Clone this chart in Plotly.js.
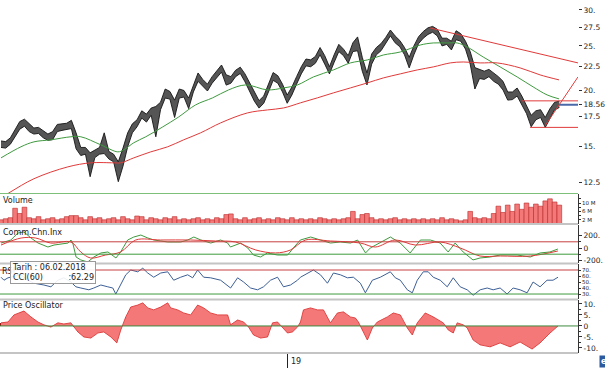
<!DOCTYPE html>
<html>
<head>
<meta charset="utf-8">
<script src="https://cdn.plot.ly/plotly-3.0.1.min.js"></script>
<style>html,body{margin:0;padding:0;background:#fff;}#chart{width:605px;height:368px;}</style>
</head>
<body>
<div id="chart"></div>
<script>
// ---------- DATA ----------
// price bars (high / low), equally spaced sessions
const barStep = 4.7;
const priceHigh = [15.45,15.40,15.70,16.35,17.05,17.25,16.85,16.50,16.55,16.25,
16.00,16.20,16.80,16.85,16.90,17.15,16.10,14.95,14.95,14.55,
14.75,14.95,16.10,14.65,14.45,13.90,14.90,16.10,16.85,17.20,
18.00,17.70,18.25,18.40,18.80,20.10,19.85,19.00,20.10,19.95,
19.20,20.50,21.80,21.10,20.60,21.40,22.00,22.70,21.60,21.40,
22.10,22.45,21.70,20.70,19.70,18.95,19.40,20.55,21.85,21.50,
20.60,19.50,20.30,21.40,22.50,23.40,23.30,23.70,24.80,23.80,
22.50,23.90,25.20,24.60,23.80,25.40,26.17,23.60,21.80,24.00,
24.80,25.30,26.10,27.10,26.30,25.70,24.80,23.60,25.00,26.20,
26.90,27.40,27.60,27.20,26.00,26.00,25.60,27.00,26.60,25.60,
24.30,22.40,22.20,22.00,22.20,21.80,21.40,20.90,19.80,19.80,
20.20,19.40,18.50,17.60,18.00,18.10,17.40,18.20,18.80,18.90];
const priceLow = [14.95,14.90,15.20,15.75,16.40,16.65,16.20,16.00,16.05,15.70,
15.50,15.55,16.20,16.30,16.35,16.45,14.85,14.35,14.45,12.89,
14.20,14.45,14.50,14.10,13.90,12.57,13.60,15.00,16.10,16.60,
17.35,17.00,17.60,15.78,18.10,19.20,19.10,17.40,19.20,19.30,
18.20,19.80,20.90,20.40,19.90,20.70,21.30,21.90,20.50,20.70,
21.40,21.75,20.85,19.90,18.90,18.25,18.70,19.80,21.00,20.70,
19.80,18.70,19.50,20.60,21.70,22.60,22.50,22.90,23.90,22.80,
21.70,23.00,24.30,23.80,22.90,24.30,24.40,22.00,20.52,22.80,
23.90,24.40,25.30,26.30,25.40,24.90,23.90,22.37,23.90,25.30,
26.00,26.50,26.80,26.30,25.00,25.20,24.50,25.80,25.60,24.60,
22.80,20.10,21.20,21.10,21.40,20.90,20.60,20.00,19.00,19.05,
19.40,18.50,17.75,16.60,17.20,17.40,16.55,17.30,18.10,18.30];
const volumeM = [2.0,2.5,3.0,7.5,5.0,8.0,3.0,2.5,3.5,2.0,
2.5,3.0,2.0,2.5,3.5,4.0,4.0,3.0,2.0,3.5,
2.5,3.0,2.0,2.5,3.0,2.0,3.5,2.5,2.0,3.8,
3.5,2.0,3.0,2.5,2.0,3.0,2.5,3.5,2.0,2.5,
2.0,2.5,3.0,2.0,2.5,2.0,3.0,2.5,4.5,4.8,
2.5,2.0,3.0,2.0,2.5,3.0,2.0,2.5,2.0,3.0,
2.5,2.0,3.0,2.0,2.5,2.0,2.5,2.0,3.0,2.5,
2.0,2.5,2.0,2.5,3.0,6.0,2.5,4.5,5.0,3.0,
2.0,2.5,2.0,2.5,3.0,2.0,2.5,2.0,2.5,2.0,
2.5,2.0,2.5,2.0,3.0,2.0,2.5,2.0,1.5,2.0,
6.0,3.0,2.5,3.0,2.5,5.0,8.5,5.5,9.0,6.0,
9.5,7.0,10.0,8.0,9.5,8.5,11.0,12.0,10.5,9.0];

// moving averages
const maGreenT = [0,20,33,50,70,80,100,117,123,133,145,162,178,195,212,228,245,267,283,297,313,333,350,367,383,400,420,433,447,457,467,483,500,517,533,547,559];
const maGreenV = [14.18,15.00,15.38,15.54,15.78,15.78,15.15,14.62,14.77,15.31,15.78,16.59,17.45,18.55,19.22,20.01,20.52,20.01,20.21,20.52,21.37,22.14,22.94,23.29,23.88,24.25,25.12,25.38,25.38,25.38,24.87,23.64,22.48,21.37,20.32,19.51,19.12];
const maRedT = [0,10,33,67,90,113,120,133,150,167,183,200,220,247,267,283,300,317,333,350,367,383,400,417,433,450,463,480,497,520,540,559];
const maRedV = [11.58,11.95,12.76,13.55,13.83,13.83,13.83,14.18,14.62,15.00,15.54,16.10,16.93,17.81,18.08,18.26,18.74,19.22,19.71,20.21,20.73,21.26,21.70,22.14,22.48,22.94,23.05,22.94,22.94,22.37,21.59,21.05];

// drawn trend / level lines
const trendDownT = [430,578], trendDownV = [27.38,22.94];
const trendUpT = [545,578], trendUpV = [16.68,21.37];
const resistT = [522,578], resistV = [18.93,18.93];
const supportT = [530,578], supportV = [16.55,16.55];
const lastT = [559,578], lastV = [18.56,18.56];

// Commodity Channel Index
const cciT = [0,2.1,3.6,4.9,6.4,7.9,10,11.3,14.3,14.9,15.3,16,17,18.5,19.8,21.3,22.8,24.5,25.5,27,28.3,29.8,31.3,32.6,35.5,38.3,39.8,41.1,42.6,44.7,46.8,48.3,48.9,51.1,52.6,53.8,55.3,56.8,58.9,61.1,62.3,63.8,66,68.1,70.2,72.3,74.5,76,77.7,78.7,80.9,83,85.1,87.2,89.4,91.5,93.6,95.3,96.8,98.5,100.6,102.1,104.3,106.4,110,112.8,114.9,117,118.7];
const cciV = [80,129,241,258,161,80,16,48,80,129,80,-145,-193,-225,-145,-80,-64,-161,-64,129,177,209,161,129,97,97,129,177,129,80,129,80,16,80,0,-113,-145,-80,-113,-113,0,129,177,129,80,97,80,129,-80,0,97,177,80,-80,129,129,80,-64,80,-64,-193,-161,-145,-113,-113,-145,-80,-64,-16];
const cciSigT = [0,4.3,7.4,10.6,14.9,17,19.1,22.3,25.5,28.7,34,40.4,45.7,50,54.3,58.5,61.7,64.9,70.2,76.6,79.8,84,88.3,93.6,97.9,102.1,106.4,112.8,118.7];
const cciSigV = [48,161,161,80,97,-64,-161,-113,-64,129,129,129,113,97,-32,-80,-32,129,113,80,16,129,48,97,0,-129,-129,-129,-48];

// RSI
const rsiT = [0,3,7,20,27,33,43,50,57,63,70,75,80,88,93,100,107,112,115,120,125,130,137,142,147,153,160,167,173,180,187,192,197,203,210,220,230,237,243,250,257,263,270,277,283,290,297,300,
307,313,320,327,333,340,347,353,360,365,372,380,390,395,400,407,412,417,423,428,433,440,447,453,460,467,473,480,487,493,500,507,513,520,527,533,540,547,553,558];
const rsiV = [58,53,57,62,53,48,45,42,53,57,50,42,40,37,40,45,42,40,30,45,62,70,67,73,65,58,65,67,53,58,62,57,70,58,57,53,40,57,50,40,37,42,53,58,42,45,53,58,
65,70,62,48,65,62,57,58,48,32,53,58,67,57,53,37,32,53,67,67,58,53,42,57,42,37,28,37,40,37,40,30,40,37,32,50,42,53,53,58];

// Price oscillator
const oscT = [0,7,13,20,23,30,37,43,50,57,63,70,73,77,83,90,97,103,110,116,120,125,130,137,142,147,153,160,167,170,177,183,190,197,203,210,217,227,230,237,243,248,253,260,267,272,277,282,287,292,297,300,
303,310,317,323,330,337,343,350,355,358,362,367,372,377,387,393,400,407,412,417,425,433,443,448,453,457,463,467,473,480,490,500,510,520,532,540,550,558];
const oscV = [1.4,1.8,5,6.4,6.8,4.1,1.8,0.5,-0.5,1.4,0.9,1.4,-0.5,-2.7,-5,-5.5,-3.2,-2.7,-5,-7.7,-1.8,4.1,8.6,9.5,10.5,8.2,7.3,8.6,10.5,8.2,7.3,5.9,5,9.5,8.2,5.9,5,5,0.5,2.7,1.8,-0.5,-4.1,-5.5,-5,1.4,1.8,-0.5,-3.2,-2.7,-0.5,1.8,
7.3,8.2,7.3,7.3,1.4,5.9,6.4,4.1,3.6,1.8,-1.8,-6.4,-0.9,1.8,4.1,5.9,5,-0.9,-4.1,1.4,5.9,4.1,1.4,-1.8,-3.2,1.4,0.5,-0.9,-6.4,-8.6,-9.5,-7.7,-9.5,-7.3,-10.5,-7.7,-3.2,0];

const priceTicks = [12.5,15,17.5,18.56,20,22.5,25,27.5,30];
const priceTickText = ["12.5","15.","17.5","18.56","20.","22.5","25.","27.5","30."];
const volTicks = [2,4,6,8,10,12];
const volTickText = ["2 M","","6 M","","10 M",""];
const cciTicks = [-200,0,200], cciTickText = ["-200.","0","200."];
const rsiTicks = [30,40,50,60,70], rsiTickText = ["30.","40.","50.","60.","70."];
const oscTicks = [-10,-5,0,5,10], oscTickText = ["-10.","-5.","0","5.","10."];
const yearTickT = 287, yearLabel = "19";
const tipText = "Tarih : 06.02.2018<br>CCI(60)          :62.29";

// ---------- BUILD ----------
const tPrice = priceHigh.map((_, i) => i * barStep);
const RED = '#e03a3a', GREEN = '#3f9a3f';
const FONT = 'DejaVu Sans, Verdana, sans-serif';
const traces = [
  {x: tPrice, y: priceLow, type:'scatter', mode:'lines', line:{color:'#151515', width:0.9}, xaxis:'x', yaxis:'y', hoverinfo:'skip'},
  {x: tPrice, y: priceHigh, type:'scatter', mode:'lines', line:{color:'#151515', width:0.9}, fill:'tonexty', fillcolor:'#555555', xaxis:'x', yaxis:'y', hoverinfo:'skip'},
  {x: maGreenT, y: maGreenV, type:'scatter', mode:'lines', line:{color:GREEN, width:1, shape:'spline'}, xaxis:'x', yaxis:'y'},
  {x: maRedT, y: maRedV, type:'scatter', mode:'lines', line:{color:RED, width:1, shape:'spline'}, xaxis:'x', yaxis:'y'},
  {x: trendDownT, y: trendDownV, type:'scatter', mode:'lines', line:{color:RED, width:1}, xaxis:'x', yaxis:'y'},
  {x: trendUpT, y: trendUpV, type:'scatter', mode:'lines', line:{color:RED, width:1}, xaxis:'x', yaxis:'y'},
  {x: resistT, y: resistV, type:'scatter', mode:'lines', line:{color:RED, width:1}, xaxis:'x', yaxis:'y'},
  {x: supportT, y: supportV, type:'scatter', mode:'lines', line:{color:RED, width:1}, xaxis:'x', yaxis:'y'},
  {x: lastT, y: lastV, type:'scatter', mode:'lines', line:{color:'#4a68a8', width:2}, xaxis:'x', yaxis:'y'},
  {x: tPrice, y: volumeM, type:'bar', width: barStep, marker:{color:'#f47878', line:{color:'#b82828', width:0.6}}, xaxis:'x', yaxis:'y2'},
  {x: cciT.map(v => v * barStep), y: cciV, type:'scatter', mode:'lines', line:{color:GREEN, width:1}, xaxis:'x', yaxis:'y3'},
  {x: cciSigT.map(v => v * barStep), y: cciSigV, type:'scatter', mode:'lines', line:{color:RED, width:1, shape:'spline'}, xaxis:'x', yaxis:'y3'},
  {x: rsiT, y: rsiV, type:'scatter', mode:'lines', line:{color:'#3d5f95', width:1}, xaxis:'x', yaxis:'y4'},
  {x: oscT, y: oscV, type:'scatter', mode:'lines', line:{color:'#e04848', width:1}, fill:'tozeroy', fillcolor:'#f47878', xaxis:'x', yaxis:'y5'},
  {x: oscT, y: oscV, type:'bar', width: 1.1, marker:{color:'#9a1515'}, xaxis:'x', yaxis:'y5'}
];

const H = 353; // plot-area height in px
const py = p => (H - p) / H; // px -> paper
const axisFont = {family:FONT, size:7.5, color:'#222'};
const smallFont = {family:FONT, size:5.5, color:'#222'};
const baseY = {side:'right', anchor:'x', ticks:'outside', ticklen:3, tickcolor:'#333', showgrid:false, zeroline:false, tickfont:axisFont, fixedrange:true};

const hline = (yref, v, color) => ({type:'line', xref:'x', yref:yref, x0:-1, x1:578, y0:v, y1:v, line:{color:color, width:1}});
const sep = (p, color, w) => ({type:'line', xref:'paper', yref:'paper', x0:0, x1:1, y0:py(p), y1:py(p), line:{color:color, width:w}});

const layout = {
  width:605, height:368,
  margin:{l:0, r:27, t:0, b:15, pad:0},
  paper_bgcolor:'#fff', plot_bgcolor:'#fff',
  showlegend:false, bargap:0,
  font: axisFont,
  xaxis:{domain:[0,1], range:[-1,578], anchor:'y5', showgrid:false, zeroline:false, tickvals:[yearTickT], ticks:'outside', ticklen:15, tickcolor:'#222', showticklabels:false, fixedrange:true},
  yaxis: Object.assign({}, baseY, {domain:[py(193),1], type:'log', range:[Math.log10(11.87), Math.log10(31.55)], tickvals:priceTicks, ticktext:priceTickText, showline:false}),
  yaxis2: Object.assign({}, baseY, {domain:[py(224),py(194)], range:[0,14.3], tickvals:volTicks, ticktext:volTickText, tickfont:smallFont, showline:true, linecolor:'#333', ticklen:2}),
  yaxis3: Object.assign({}, baseY, {domain:[py(263),py(225)], range:[-242,371], tickvals:cciTicks, ticktext:cciTickText, showline:true, linecolor:'#333', minor:{tickvals:[-100,100], ticks:'outside', ticklen:2, tickcolor:'#333'}}),
  yaxis4: Object.assign({}, baseY, {domain:[py(299),py(264)], range:[21.7,80], tickvals:rsiTicks, ticktext:rsiTickText, tickfont:smallFont, ticklen:2, showline:true, linecolor:'#333'}),
  yaxis5: Object.assign({}, baseY, {domain:[0,py(300)], range:[-12.3,11.8], tickvals:oscTicks, ticktext:oscTickText, showline:true, linecolor:'#333', minor:{tickvals:[-7.5,-2.5,2.5,7.5], ticks:'outside', ticklen:2, tickcolor:'#333'}}),
  shapes:[
    hline('y3', 100, '#c84040'), hline('y3', -100, GREEN),
    hline('y4', 70, '#c84040'), hline('y4', 30, GREEN),
    hline('y5', 0, '#3f8a3f'),
    sep(193.5, '#7cc07c', 1.2),
    sep(224, '#c4c4c4', 2), sep(263.5, '#c4c4c4', 2), sep(299.5, '#c4c4c4', 2), sep(353, '#c4c4c4', 2)
  ],
  annotations:[
    {xref:'paper', yref:'paper', x:0.002, y:py(201), xanchor:'left', yanchor:'middle', text:'Volume', showarrow:false, font:{family:FONT, size:8, color:'#222'}},
    {xref:'paper', yref:'paper', x:0.002, y:py(232), xanchor:'left', yanchor:'middle', text:'Comm.Chn.Inx', showarrow:false, font:{family:FONT, size:8, color:'#222'}},
    {xref:'paper', yref:'paper', x:0, y:py(271), xanchor:'left', yanchor:'middle', text:'RSI', showarrow:false, font:{family:FONT, size:8, color:'#222'}},
    {xref:'paper', yref:'paper', x:0.002, y:py(305), xanchor:'left', yanchor:'middle', text:'Price Oscillator', showarrow:false, font:{family:FONT, size:8, color:'#222'}},
    {xref:'paper', yref:'paper', x:10/578, y:py(261), xanchor:'left', yanchor:'top', align:'left', text:tipText, showarrow:false, bgcolor:'rgba(255,255,255,0.9)', bordercolor:'#9a9a9a', borderwidth:1, borderpad:1, font:{family:FONT, size:8, color:'#222'}},
    {xref:'x', yref:'paper', x:yearTickT + 1.5, y:py(361), xanchor:'left', yanchor:'middle', text:yearLabel, showarrow:false, font:{family:FONT, size:8, color:'#222'}},
    {xref:'paper', yref:'paper', x:1.045, y:py(362), xanchor:'center', yanchor:'middle', text:'<b>e</b>', showarrow:false, bgcolor:'#2c5aa0', borderpad:1, font:{family:FONT, size:8, color:'#fff'}}
  ]
};

Plotly.newPlot('chart', traces, layout, {displayModeBar:false, staticPlot:true});
</script>
</body>
</html>
